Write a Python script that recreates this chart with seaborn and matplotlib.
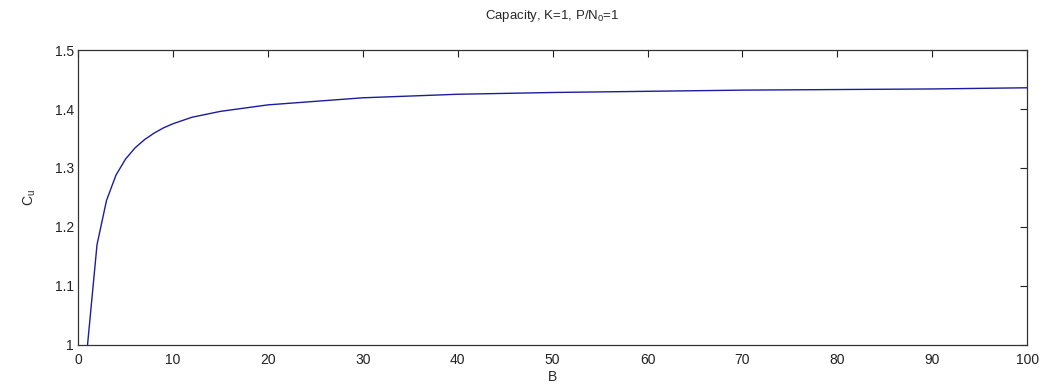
import matplotlib
matplotlib.use("Agg")
import matplotlib.pyplot as plt
import seaborn as sns
import pandas as pd

# Values
B_values = [1, 2, 3, 4, 5, 6, 7, 8, 9, 10, 12, 15, 20, 25, 30, 40, 50, 60, 70, 80, 90, 100]
Cu_values = [1.000, 1.170, 1.245, 1.288, 1.315, 1.334, 1.348, 1.359, 1.368, 1.375,
             1.386, 1.396, 1.407, 1.413, 1.419, 1.425, 1.428, 1.430, 1.432, 1.433,
             1.434, 1.436]
x_ticks = [0, 10, 20, 30, 40, 50, 60, 70, 80, 90, 100]
y_ticks = [1, 1.1, 1.2, 1.3, 1.4, 1.5]
y_tick_labels = ["1", "1.1", "1.2", "1.3", "1.4", "1.5"]

sns.set_style("white")
plt.rcParams["font.family"] = ["Liberation Sans", "DejaVu Sans"]
plt.rcParams["mathtext.default"] = "regular"

df = pd.DataFrame({"B": B_values, "Cu": Cu_values})

fig = plt.figure(figsize=(10.46, 3.92), dpi=100)
ax = fig.add_axes([0.0746, 0.12, 0.9074, 0.7524])
sns.lineplot(data=df, x="B", y="Cu", ax=ax, color="#1c1c9e", linewidth=1.0)

ax.set_xlim(0, 100)
ax.set_ylim(1, 1.5)
ax.set_xticks(x_ticks)
ax.set_xticklabels([str(t) for t in x_ticks])
ax.set_yticks(y_ticks)
ax.set_yticklabels(y_tick_labels)
ax.tick_params(direction="in", length=5, width=0.8, top=True, right=True,
               labelsize=10, colors="#222222", pad=3)
ax.tick_params(axis="x", pad=6)
for s in ax.spines.values():
    s.set_visible(True)
    s.set_color("#333333")
    s.set_linewidth(0.9)

ax.set_xlabel("B", fontsize=10, labelpad=2)
ax.set_ylabel("C$_u$", fontsize=10, labelpad=12)
ax.set_title("Capacity, K=1, P/N$_0$=1", fontsize=9.5, pad=22)

fig.savefig("out.png", dpi=100, facecolor="white")
